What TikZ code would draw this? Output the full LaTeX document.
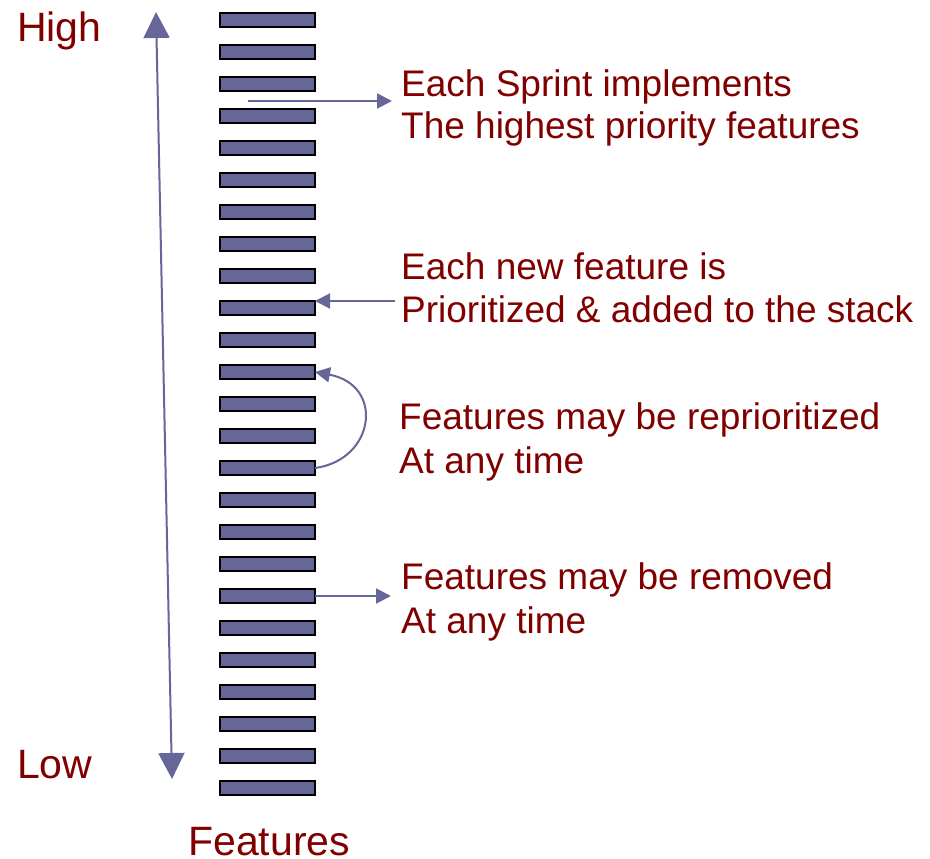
\documentclass[tikz,border=0pt]{standalone}
\usepackage{fontspec}
\setmainfont{Liberation Sans}
\usetikzlibrary{arrows.meta}
\definecolor{barfill}{HTML}{666699}
\definecolor{labelred}{HTML}{800000}
\tikzset{
  bar/.style={draw=black, line width=2pt, fill=barfill, minimum width=95pt,
    minimum height=14pt, inner sep=0pt, outer sep=0pt},
  pointer/.style={draw=barfill, line width=2pt,
    -{Triangle[length=15pt,width=15pt]}},
  note/.style={text=labelred, anchor=base west, inner sep=0pt,
    font=\fontsize{37}{44}\selectfont},
  axislabel/.style={text=labelred, anchor=base west, inner sep=0pt,
    font=\fontsize{41}{48}\selectfont}
}
\begin{document}
\begin{tikzpicture}[x=1pt,y=-1pt]
\useasboundingbox (0,0) rectangle (930,859);

% priority axis
\coordinate (axtop) at (156,12);
\coordinate (axbot) at (172,779);
\draw[draw=barfill, line width=2pt,
  {Triangle[length=26pt,width=26pt]}-{Triangle[length=26pt,width=26pt]}]
  (axtop) -- (axbot);
\node[axislabel] (high) at (17,42) {High};
\node[axislabel] (low) at (17,778) {Low};

% the stack of features
\foreach \i in {0,...,24} {
  \node[bar] (b\i) at (267.5,20+32*\i) {};
}
\node[axislabel] (features) at (188,855) {Features};

% notes
\node[note] (n1a) at (401,96) {Each Sprint implements};
\node[note] (n1b) at (401,139) {The highest priority features};
\node[note] (n2a) at (401,279) {Each new feature is};
\node[note] (n2b) at (401,322) {Prioritized \& added to the stack};
\node[note] (n3a) at (399,429) {Features may be reprioritized};
\node[note] (n3b) at (399,473) {At any time};
\node[note] (n4a) at (401,589) {Features may be removed};
\node[note] (n4b) at (401,633) {At any time};

% connectors
\coordinate (s1) at (248,101);
\coordinate (e1) at (392,101);
\draw[pointer] (s1) -- (e1);

\coordinate (s2) at (395,301);
\draw[pointer] (s2) -- (b9.north east);

\draw[pointer] (b14.east) .. controls (375,460) and (385,385) .. (b11.east);

\coordinate (e4) at (391,596);
\draw[pointer] (b18.east) -- (e4);
\end{tikzpicture}
\end{document}
